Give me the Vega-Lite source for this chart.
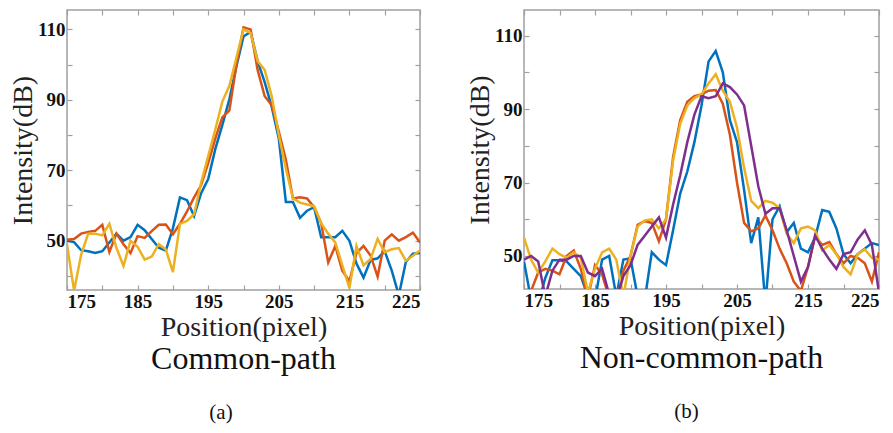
{
"$schema": "https://vega.github.io/schema/vega-lite/v6.json",
"background": "white",
"padding": {"left": 8, "top": 8, "right": 0, "bottom": 0},
"spacing": 43,
"config": {
 "view": {"stroke": "#a0a0a0", "strokeWidth": 1.5},
 "axis": {"domain": false, "grid": false, "tickSize": -5, "tickColor": "#a0a0a0", "tickWidth": 1.2,
  "labelFont": "Liberation Serif", "labelFontWeight": "bold", "labelFontSize": 19, "labelColor": "#111", "labelPadding": 7,
  "titleFont": "Liberation Serif", "titleFontWeight": "normal", "titleFontSize": 28, "titleColor": "#222"},
 "title": {"font": "Liberation Serif", "fontSize": 32, "fontWeight": "normal", "color": "#111",
  "subtitleFont": "Liberation Serif", "subtitleFontSize": 21, "subtitleColor": "#111"}
},
"datasets": {
 "a1": [{"x":175,"y":50},{"x":176,"y":49.6},{"x":177,"y":47.3},{"x":178,"y":47},{"x":179,"y":46.5},{"x":180,"y":47},{"x":181,"y":49.5},{"x":182,"y":52},{"x":183,"y":50},{"x":184,"y":51},{"x":185,"y":54.5},{"x":186,"y":53},{"x":187,"y":50.5},{"x":188,"y":48},{"x":189,"y":47.2},{"x":190,"y":53.5},{"x":191,"y":62.3},{"x":192,"y":61.5},{"x":193,"y":57},{"x":194,"y":63.5},{"x":195,"y":67.5},{"x":196,"y":76},{"x":197,"y":82.8},{"x":198,"y":90.2},{"x":199,"y":99.5},{"x":200,"y":108},{"x":201,"y":109.3},{"x":202,"y":101},{"x":203,"y":95},{"x":204,"y":88},{"x":205,"y":79},{"x":206,"y":61},{"x":207,"y":61},{"x":208,"y":56.5},{"x":209,"y":58.5},{"x":210,"y":59.5},{"x":211,"y":51},{"x":212,"y":51},{"x":213,"y":51},{"x":214,"y":52.8},{"x":215,"y":50},{"x":216,"y":43.5},{"x":217,"y":39.5},{"x":218,"y":44.5},{"x":219,"y":45},{"x":220,"y":47},{"x":221,"y":41.5},{"x":222,"y":34.5},{"x":223,"y":44},{"x":224,"y":46.3},{"x":225,"y":46.5}],
 "a2": [{"x":175,"y":50.3},{"x":176,"y":50.5},{"x":177,"y":52},{"x":178,"y":52.5},{"x":179,"y":52.8},{"x":180,"y":54.5},{"x":181,"y":46.8},{"x":182,"y":52},{"x":183,"y":49},{"x":184,"y":46.5},{"x":185,"y":51.3},{"x":186,"y":50.8},{"x":187,"y":52.7},{"x":188,"y":54.5},{"x":189,"y":54.6},{"x":190,"y":51.8},{"x":191,"y":54.8},{"x":192,"y":58.3},{"x":193,"y":62.3},{"x":194,"y":65.8},{"x":195,"y":72},{"x":196,"y":79},{"x":197,"y":85},{"x":198,"y":87},{"x":199,"y":100},{"x":200,"y":110.6},{"x":201,"y":110},{"x":202,"y":98.5},{"x":203,"y":91},{"x":204,"y":88.5},{"x":205,"y":81},{"x":206,"y":73},{"x":207,"y":62},{"x":208,"y":62.3},{"x":209,"y":62},{"x":210,"y":59.5},{"x":211,"y":55},{"x":212,"y":43.8},{"x":213,"y":48.5},{"x":214,"y":41.5},{"x":215,"y":38.5},{"x":216,"y":46.5},{"x":217,"y":48.5},{"x":218,"y":45.8},{"x":219,"y":39.8},{"x":220,"y":50},{"x":221,"y":51.8},{"x":222,"y":50},{"x":223,"y":51},{"x":224,"y":52.3},{"x":225,"y":49.5}],
 "a3": [{"x":175,"y":49},{"x":176,"y":35.8},{"x":177,"y":46},{"x":178,"y":52},{"x":179,"y":52},{"x":180,"y":51.5},{"x":181,"y":54.8},{"x":182,"y":48},{"x":183,"y":42.8},{"x":184,"y":50},{"x":185,"y":48.3},{"x":186,"y":44.6},{"x":187,"y":45.5},{"x":188,"y":49},{"x":189,"y":47.5},{"x":190,"y":41.1},{"x":191,"y":54.8},{"x":192,"y":55.6},{"x":193,"y":57.5},{"x":194,"y":66.5},{"x":195,"y":74},{"x":196,"y":81.5},{"x":197,"y":89.5},{"x":198,"y":94},{"x":199,"y":102},{"x":200,"y":110},{"x":201,"y":109},{"x":202,"y":101},{"x":203,"y":98.5},{"x":204,"y":91},{"x":205,"y":80},{"x":206,"y":70.5},{"x":207,"y":62},{"x":208,"y":60.8},{"x":209,"y":60.3},{"x":210,"y":59.8},{"x":211,"y":55},{"x":212,"y":52},{"x":213,"y":49.5},{"x":214,"y":43},{"x":215,"y":36.5},{"x":216,"y":48.5},{"x":217,"y":43},{"x":218,"y":44.8},{"x":219,"y":50.5},{"x":220,"y":46.7},{"x":221,"y":47.6},{"x":222,"y":47.9},{"x":223,"y":44.3},{"x":224,"y":45.7},{"x":225,"y":47.2}],
 "b1": [{"x":175,"y":48.5},{"x":176,"y":38},{"x":177,"y":37},{"x":178,"y":44},{"x":179,"y":48.8},{"x":180,"y":48.8},{"x":181,"y":48.5},{"x":182,"y":46.5},{"x":183,"y":44.5},{"x":184,"y":39},{"x":185,"y":38},{"x":186,"y":49},{"x":187,"y":50},{"x":188,"y":39},{"x":189,"y":49},{"x":190,"y":49.3},{"x":191,"y":39},{"x":192,"y":38},{"x":193,"y":51},{"x":194,"y":49},{"x":195,"y":47.5},{"x":196,"y":57},{"x":197,"y":67},{"x":198,"y":73},{"x":199,"y":81},{"x":200,"y":91},{"x":201,"y":103},{"x":202,"y":105.8},{"x":203,"y":100},{"x":204,"y":87},{"x":205,"y":81},{"x":206,"y":68},{"x":207,"y":53.5},{"x":208,"y":60.5},{"x":209,"y":37},{"x":210,"y":60},{"x":211,"y":63.5},{"x":212,"y":56.5},{"x":213,"y":59},{"x":214,"y":52},{"x":215,"y":51},{"x":216,"y":55},{"x":217,"y":62.5},{"x":218,"y":62},{"x":219,"y":57.5},{"x":220,"y":50.5},{"x":221,"y":48},{"x":222,"y":50.5},{"x":223,"y":52},{"x":224,"y":53.5},{"x":225,"y":53}],
 "b2": [{"x":175,"y":38},{"x":176,"y":40.5},{"x":177,"y":45.5},{"x":178,"y":46.5},{"x":179,"y":46},{"x":180,"y":45},{"x":181,"y":50},{"x":182,"y":51.5},{"x":183,"y":46.5},{"x":184,"y":38.5},{"x":185,"y":47.5},{"x":186,"y":45},{"x":187,"y":38.5},{"x":188,"y":37},{"x":189,"y":46},{"x":190,"y":50},{"x":191,"y":58.5},{"x":192,"y":59.5},{"x":193,"y":59},{"x":194,"y":54},{"x":195,"y":60},{"x":196,"y":77},{"x":197,"y":87},{"x":198,"y":92},{"x":199,"y":93.5},{"x":200,"y":94},{"x":201,"y":95},{"x":202,"y":95.2},{"x":203,"y":91.5},{"x":204,"y":83},{"x":205,"y":70},{"x":206,"y":59},{"x":207,"y":56.7},{"x":208,"y":57.5},{"x":209,"y":61},{"x":210,"y":57},{"x":211,"y":52},{"x":212,"y":48},{"x":213,"y":43},{"x":214,"y":40.5},{"x":215,"y":47},{"x":216,"y":55.5},{"x":217,"y":53},{"x":218,"y":53.8},{"x":219,"y":50.5},{"x":220,"y":48},{"x":221,"y":50},{"x":222,"y":49.5},{"x":223,"y":48},{"x":224,"y":43},{"x":225,"y":51}],
 "b3": [{"x":175,"y":55},{"x":176,"y":49},{"x":177,"y":45.5},{"x":178,"y":48.5},{"x":179,"y":52},{"x":180,"y":50.5},{"x":181,"y":49.5},{"x":182,"y":51},{"x":183,"y":49.5},{"x":184,"y":40},{"x":185,"y":46.5},{"x":186,"y":51},{"x":187,"y":52},{"x":188,"y":49},{"x":189,"y":39},{"x":190,"y":50},{"x":191,"y":58},{"x":192,"y":59.7},{"x":193,"y":60},{"x":194,"y":57.5},{"x":195,"y":60},{"x":196,"y":76},{"x":197,"y":86},{"x":198,"y":91},{"x":199,"y":93},{"x":200,"y":94},{"x":201,"y":97},{"x":202,"y":99.5},{"x":203,"y":95},{"x":204,"y":92},{"x":205,"y":85},{"x":206,"y":74},{"x":207,"y":65},{"x":208,"y":63},{"x":209,"y":65},{"x":210,"y":64.5},{"x":211,"y":63},{"x":212,"y":56},{"x":213,"y":53.5},{"x":214,"y":57.5},{"x":215,"y":58},{"x":216,"y":57},{"x":217,"y":51.5},{"x":218,"y":53},{"x":219,"y":50.5},{"x":220,"y":47},{"x":221,"y":45},{"x":222,"y":50.5},{"x":223,"y":51.8},{"x":224,"y":49.5},{"x":225,"y":49}],
 "b4": [{"x":175,"y":49},{"x":176,"y":50},{"x":177,"y":48.5},{"x":178,"y":39},{"x":179,"y":46},{"x":180,"y":49},{"x":181,"y":49},{"x":182,"y":50},{"x":183,"y":50},{"x":184,"y":45.5},{"x":185,"y":44.5},{"x":186,"y":46.5},{"x":187,"y":39.5},{"x":188,"y":38},{"x":189,"y":44.5},{"x":190,"y":47.5},{"x":191,"y":53},{"x":192,"y":55.5},{"x":193,"y":58},{"x":194,"y":60.5},{"x":195,"y":55},{"x":196,"y":64},{"x":197,"y":72},{"x":198,"y":81},{"x":199,"y":88.5},{"x":200,"y":93.5},{"x":201,"y":93},{"x":202,"y":93.5},{"x":203,"y":97},{"x":204,"y":96},{"x":205,"y":94},{"x":206,"y":91},{"x":207,"y":80},{"x":208,"y":69},{"x":209,"y":61.5},{"x":210,"y":63},{"x":211,"y":63},{"x":212,"y":57},{"x":213,"y":50},{"x":214,"y":43},{"x":215,"y":47},{"x":216,"y":55.5},{"x":217,"y":52},{"x":218,"y":49},{"x":219,"y":46.5},{"x":220,"y":50.5},{"x":221,"y":51},{"x":222,"y":54.5},{"x":223,"y":57},{"x":224,"y":53},{"x":225,"y":40}]
},
"hconcat": [
 {
  "width": 353, "height": 280,
  "title": {"text": "Common-path", "subtitle": "(a)\u2800\u2800\u2800", "orient": "bottom", "frame": "group", "anchor": "middle", "offset": 3, "subtitlePadding": 26},
  "encoding": {
   "x": {"field": "x", "type": "quantitative", "scale": {"domain": [175, 225], "nice": false, "zero": false}, "axis": null},
   "y": {"field": "y", "type": "quantitative", "scale": {"domain": [36, 115.5], "nice": false, "zero": false}, "axis": null}
  },
  "layer": [
   {"data": {"name": "a1"}, "mark": {"type": "line", "color": "#0072BD", "strokeWidth": 2.5, "clip": true},
    "encoding": {
     "x": {"field": "x", "type": "quantitative", "scale": {"domain": [175, 225], "nice": false, "zero": false},
      "axis": {"orient": "bottom", "title": "Position(pixel)", "titlePadding": 2, "values": [175,180,185,190,195,200,205,210,215,220,225], "labelExpr": "(datum.value-175)%10==0 ? datum.label : ''"}},
     "y": {"field": "y", "type": "quantitative", "scale": {"domain": [36, 115.5], "nice": false, "zero": false},
      "axis": {"orient": "left", "title": "Intensity(dB)", "titlePadding": 0, "values": [40,50,60,70,80,90,100,110], "labelExpr": "(datum.value-50)%20==0 ? datum.label : ''"}}
    }},
   {"data": {"name": "a2"}, "mark": {"type": "line", "color": "#D95319", "strokeWidth": 2.5, "clip": true}, "encoding": {}},
   {"data": {"name": "a3"}, "mark": {"type": "line", "color": "#EDB120", "strokeWidth": 2.5, "clip": true}, "encoding": {}},
   {"data": {"name": "a1"}, "mark": {"type": "line", "opacity": 0, "clip": true},
    "encoding": {
     "x": {"field": "x", "type": "quantitative", "scale": {"domain": [175, 225], "nice": false, "zero": false}, "axis": {"orient": "top", "labels": false, "title": null, "values": [175,180,185,190,195,200,205,210,215,220,225]}},
     "y": {"field": "y", "type": "quantitative", "scale": {"domain": [36, 115.5], "nice": false, "zero": false}, "axis": {"orient": "right", "labels": false, "title": null, "values": [40,50,60,70,80,90,100,110]}}
    }}
  ],
  "resolve": {"axis": {"x": "independent", "y": "independent"}}
 },
 {
  "width": 355, "height": 279,
  "title": {"text": "Non-common-path", "subtitle": "(b)\u2800\u2800", "orient": "bottom", "frame": "group", "anchor": "middle", "offset": 3, "subtitlePadding": 26},
  "encoding": {
   "x": {"field": "x", "type": "quantitative", "scale": {"domain": [175, 225], "nice": false, "zero": false}, "axis": null},
   "y": {"field": "y", "type": "quantitative", "scale": {"domain": [41, 117], "nice": false, "zero": false}, "axis": null}
  },
  "layer": [
   {"data": {"name": "b1"}, "mark": {"type": "line", "color": "#0072BD", "strokeWidth": 2.5, "clip": true},
    "encoding": {
     "x": {"field": "x", "type": "quantitative", "scale": {"domain": [175, 225], "nice": false, "zero": false},
      "axis": {"orient": "bottom", "title": "Position(pixel)", "titlePadding": 2, "values": [175,180,185,190,195,200,205,210,215,220,225], "labelExpr": "(datum.value-175)%10==0 ? datum.label : ''"}},
     "y": {"field": "y", "type": "quantitative", "scale": {"domain": [41, 117], "nice": false, "zero": false},
      "axis": {"orient": "left", "title": "Intensity(dB)", "titlePadding": 0, "values": [50,60,70,80,90,100,110], "labelExpr": "(datum.value-50)%20==0 ? datum.label : ''"}}
    }},
   {"data": {"name": "b2"}, "mark": {"type": "line", "color": "#D95319", "strokeWidth": 2.5, "clip": true}, "encoding": {}},
   {"data": {"name": "b3"}, "mark": {"type": "line", "color": "#EDB120", "strokeWidth": 2.5, "clip": true}, "encoding": {}},
   {"data": {"name": "b4"}, "mark": {"type": "line", "color": "#7E2F8E", "strokeWidth": 2.5, "clip": true}, "encoding": {}},
   {"data": {"name": "b1"}, "mark": {"type": "line", "opacity": 0, "clip": true},
    "encoding": {
     "x": {"field": "x", "type": "quantitative", "scale": {"domain": [175, 225], "nice": false, "zero": false}, "axis": {"orient": "top", "labels": false, "title": null, "values": [175,180,185,190,195,200,205,210,215,220,225]}},
     "y": {"field": "y", "type": "quantitative", "scale": {"domain": [41, 117], "nice": false, "zero": false}, "axis": {"orient": "right", "labels": false, "title": null, "values": [50,60,70,80,90,100,110]}}
    }}
  ],
  "resolve": {"axis": {"x": "independent", "y": "independent"}}
 }
]
}
